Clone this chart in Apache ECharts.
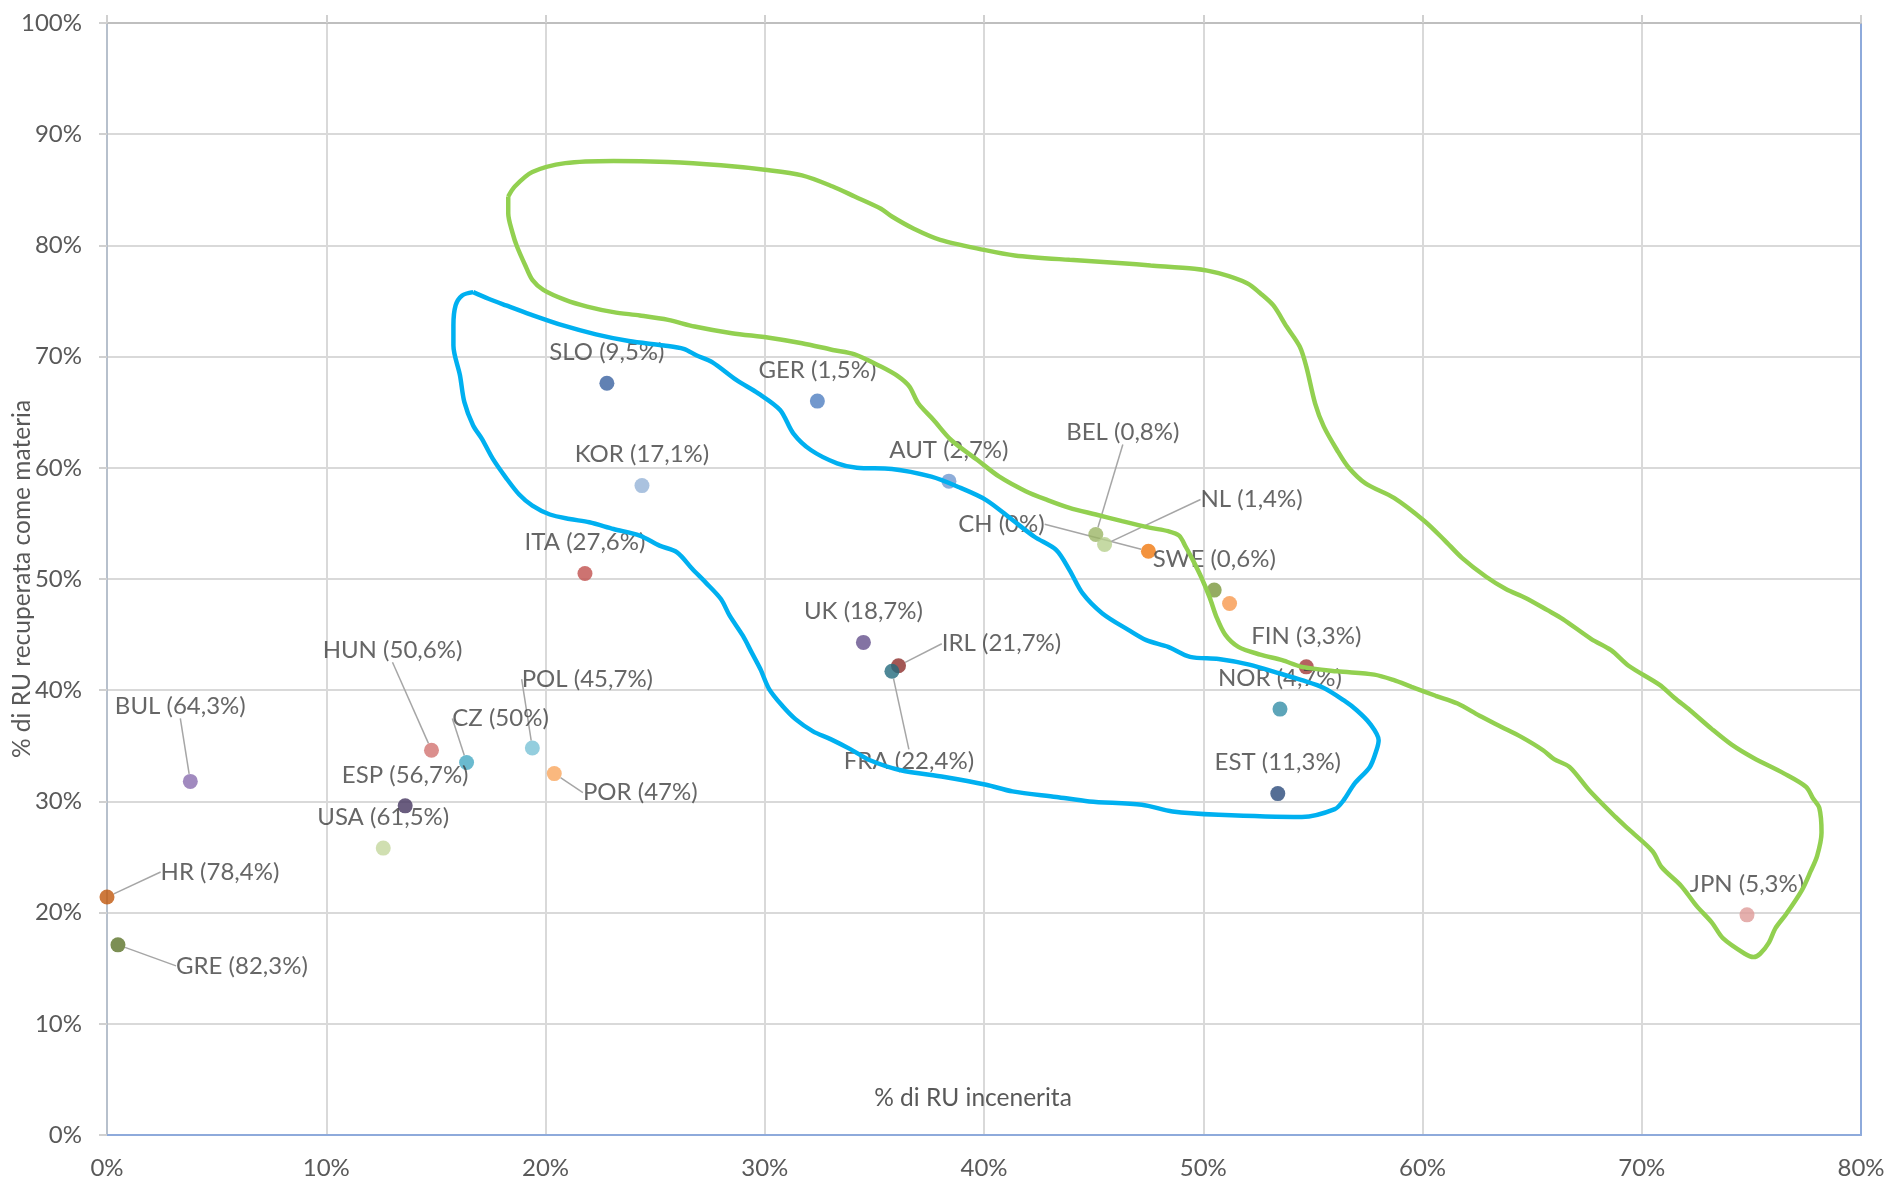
<!DOCTYPE html>
<html>
<head>
<meta charset="utf-8">
<script src="https://cdn.jsdelivr.net/npm/echarts@6/dist/echarts.min.js"></script>
<style>
  html, body { margin: 0; padding: 0; background: #ffffff; }
  #chart { width: 1887px; height: 1181px; }
</style>
</head>
<body>
<div id="chart"></div>
<script>
// ---- Data ----
const countries = ['SLO','GER','KOR','AUT','ITA','BEL','NL','CH','SWE','','UK','IRL','FRA','FIN','NOR','EST','JPN','BUL','HUN','CZ','POL','POR','ESP','USA','HR','GRE'];
// % di RU incenerita (x)
const incenerita = [22.8, 32.4, 24.4, 38.4, 21.8, 45.1, 45.5, 47.5, 50.5, 51.2, 34.5, 36.1, 35.8, 54.7, 53.5, 53.4, 74.8, 3.8, 14.8, 16.4, 19.4, 20.4, 13.6, 12.6, 0.0, 0.5];
// % di RU recuperata come materia (y)
const recuperata = [67.6, 66.0, 58.4, 58.8, 50.5, 54.0, 53.1, 52.5, 49.0, 47.8, 44.3, 42.2, 41.7, 42.1, 38.3, 30.7, 19.8, 31.8, 34.6, 33.5, 34.8, 32.5, 29.6, 25.8, 21.4, 17.1];
// value shown in parentheses in each label
const quota = [9.5, 1.5, 17.1, 2.7, 27.6, 0.8, 1.4, 0, 0.6, null, 18.7, 21.7, 22.4, 3.3, 4.7, 11.3, 5.3, 64.3, 50.6, 50, 45.7, 47, 56.7, 61.5, 78.4, 82.3];

// hand-drawn group outlines, [x %, y %]
const contornoBlu = [[16.7,75.8],[16.2,75.5],[15.9,74.6],[15.8,72.8],[15.8,71.0],[16.1,68.3],[16.3,65.9],[16.7,63.8],[17.1,62.6],[17.6,60.8],[18.2,59.1],[18.8,57.6],[19.4,56.6],[20.2,55.8],[21.1,55.4],[22.0,55.1],[23.1,54.5],[24.3,53.9],[25.2,53.0],[26.0,52.4],[26.7,50.9],[27.3,49.7],[28.0,48.2],[28.4,46.7],[29.0,44.9],[29.4,43.4],[29.8,41.9],[30.2,40.1],[30.8,38.6],[31.4,37.4],[32.2,36.3],[33.0,35.6],[33.9,34.7],[34.8,33.7],[36.2,32.8],[38.2,32.2],[40.1,31.5],[41.3,30.9],[43.3,30.4],[44.8,30.0],[47.2,29.7],[48.6,29.1],[50.7,28.8],[54.5,28.6],[56.0,29.3],[56.4,30.1],[56.9,31.6],[57.6,33.1],[57.9,34.6],[58.0,35.5],[57.6,37.0],[57.0,38.2],[56.4,39.1],[55.5,40.2],[54.5,40.9],[53.5,41.5],[52.1,42.3],[50.7,42.8],[49.4,43.0],[48.4,43.9],[47.4,44.5],[46.6,45.4],[45.4,46.9],[44.5,48.7],[43.9,50.8],[43.3,52.6],[42.3,53.8],[41.3,55.3],[40.1,57.1],[38.8,58.3],[37.6,59.2],[35.8,59.9],[34.2,60.0],[33.3,60.4],[32.1,61.6],[31.3,63.1],[30.7,65.2],[29.7,66.7],[28.7,67.9],[27.6,69.5],[26.9,70.1],[26.3,70.7],[25.4,71.0],[23.8,71.4],[22.3,72.0],[20.8,72.8],[19.3,73.8],[18.2,74.6],[17.4,75.2],[16.7,75.8]];
const contornoVerde = [[18.3,84.4],[18.6,85.3],[19.4,86.6],[20.9,87.4],[23.1,87.6],[25.6,87.5],[28.0,87.2],[30.0,86.8],[31.7,86.3],[33.1,85.3],[34.1,84.4],[35.3,83.3],[35.8,82.6],[36.8,81.5],[38.0,80.5],[40.0,79.6],[41.4,79.1],[43.9,78.7],[46.3,78.4],[47.6,78.2],[49.6,77.9],[50.7,77.5],[52.0,76.6],[52.6,75.7],[53.2,74.6],[53.8,72.7],[54.4,70.9],[54.7,69.1],[55.1,65.8],[55.5,63.7],[56.1,61.6],[56.6,60.1],[57.4,58.6],[58.7,57.3],[60.1,55.2],[61.0,53.5],[61.8,51.9],[62.9,50.2],[63.8,49.1],[64.7,48.3],[65.7,47.2],[66.4,46.4],[67.7,44.6],[68.6,43.6],[69.4,42.2],[70.8,40.5],[71.5,39.3],[72.2,38.2],[73.2,36.5],[74.1,35.1],[75.1,33.9],[76.5,32.5],[77.5,31.3],[77.8,30.3],[78.1,29.4],[78.2,27.2],[78.0,25.1],[77.7,23.7],[77.3,22.0],[76.6,19.9],[76.1,18.6],[75.8,17.3],[75.4,16.3],[75.1,16.0],[74.7,16.3],[73.7,17.7],[73.2,19.1],[72.5,20.6],[71.8,22.4],[70.9,24.1],[70.5,25.5],[69.4,27.5],[68.8,28.6],[67.6,31.0],[66.7,33.1],[66.0,33.8],[65.5,34.6],[64.5,35.8],[63.6,36.7],[62.6,37.7],[61.6,38.8],[60.6,39.5],[59.5,40.3],[58.7,40.9],[57.8,41.4],[56.1,41.7],[54.5,42.1],[53.6,42.7],[52.6,43.2],[51.6,43.9],[51.0,45.0],[50.6,46.6],[50.3,48.3],[49.9,50.2],[49.5,51.8],[49.2,52.9],[48.9,53.9],[48.4,54.3],[47.6,54.6],[46.3,55.2],[45.1,55.8],[43.9,56.4],[42.9,57.1],[41.9,57.9],[40.7,59.2],[39.7,60.7],[38.5,62.5],[37.7,64.3],[37.0,65.8],[36.6,67.3],[36.1,68.2],[35.3,69.1],[34.1,70.2],[33.1,70.6],[31.7,71.2],[30.2,71.7],[28.5,72.1],[26.8,72.7],[25.6,73.3],[24.3,73.7],[23.1,74.0],[21.9,74.5],[20.9,75.1],[19.9,76.0],[19.4,76.9],[19.1,78.1],[18.7,79.9],[18.5,81.1],[18.3,82.9],[18.3,84.4]];

const xTicks = [0, 10, 20, 30, 40, 50, 60, 70, 80];
const yTicks = [0, 10, 20, 30, 40, 50, 60, 70, 80, 90, 100];

// ---- Styles / layout (kept apart from the data) ----
const pointColors = ['#3A62A0','#4F7EC0','#95B3D7','#7298CF','#C0504D','#9BB565','#B7CF8D','#F0780E','#7A973C','#F8994E','#64508C','#8C2D2A','#236A7D','#A23A38','#348FA7','#2A4A7A','#DE9B99','#8A6DAF','#D27370','#45A9C3','#79C2D6','#F9A65E','#45345F','#C4D79E','#C0580C','#5B7329'];
const labelShift = {
  HR: [113, 6], GRE: [124, 52], BUL: [-10, -44], HUN: [-39, -69], CZ: [34, -13],
  POL: [55, -38], POR: [86, 50], BEL: [27, -71], NL: [147, -14], CH: [-147, 4],
  IRL: [103, 9], FRA: [17, 121]
};

const fontFam = 'Lato, "Open Sans", sans-serif';
function fmt(v) { return String(v).replace('.', ','); }

const pointData = countries.map((c, i) => ({
  name: c,
  value: [incenerita[i], recuperata[i]],
  itemStyle: { color: pointColors[i] },
  label: { show: quota[i] !== null },
  labelLine: { show: !!labelShift[c] }
}));

const chart = echarts.init(document.getElementById('chart'), null, { renderer: 'canvas' });
const axisCommon = { type: 'value' };
chart.setOption({
  animation: false,
  backgroundColor: '#ffffff',
  grid: { left: 107, right: 26, top: 23, bottom: 46, containLabel: false, outerBoundsMode: 'none' },
  xAxis: [{
    ...axisCommon, position: 'bottom', min: xTicks[0], max: xTicks[xTicks.length - 1], interval: 10,
    axisLine: { show: true, onZero: false, lineStyle: { color: '#8EAADB', width: 2 } },
    axisTick: { show: false },
    axisLabel: { formatter: '{value}%', fontFamily: fontFam, fontSize: 24, color: '#595959', margin: 21 },
    splitLine: { show: true, lineStyle: { color: '#D9D9D9', width: 2 } },
    name: '% di RU incenerita', nameLocation: 'middle', nameGap: -49, nameMoveOverlap: false,
    nameTextStyle: { fontFamily: fontFam, fontSize: 24.5, color: '#595959', padding: [0, 22, 0, 0] }
  }, {
    ...axisCommon, position: 'top', min: xTicks[0], max: xTicks[xTicks.length - 1], interval: 10,
    axisLine: { show: true, onZero: false, lineStyle: { color: '#BFBFBF', width: 2 } },
    axisTick: { show: true, length: 8, lineStyle: { color: '#D0D0D0', width: 2 } },
    axisLabel: { show: false }, splitLine: { show: false }
  }],
  yAxis: [{
    ...axisCommon, position: 'left', min: yTicks[0], max: yTicks[yTicks.length - 1], interval: 10,
    axisLine: { show: true, onZero: false, lineStyle: { color: '#B7C0CC', width: 2 } },
    axisTick: { show: true, length: 8, lineStyle: { color: '#D0D0D0', width: 2 } },
    axisLabel: { formatter: '{value}%', fontFamily: fontFam, fontSize: 24, color: '#595959', margin: 25 },
    splitLine: { show: true, lineStyle: { color: '#D9D9D9', width: 2 } },
    name: '% di RU recuperata come materia', nameLocation: 'middle', nameGap: 72, nameMoveOverlap: false,
    nameTextStyle: { fontFamily: fontFam, fontSize: 24.5, color: '#595959' }
  }, {
    ...axisCommon, position: 'right', min: yTicks[0], max: yTicks[yTicks.length - 1], interval: 10,
    axisLine: { show: true, onZero: false, lineStyle: { color: '#8EAADB', width: 2 } },
    axisTick: { show: false }, axisLabel: { show: false }, splitLine: { show: false }
  }],
  series: [{
    type: 'scatter',
    z: 2,
    symbol: 'circle',
    symbolSize: 15,
    data: pointData,
    label: {
      show: true, position: 'top', distance: 11.5,
      fontFamily: fontFam, fontSize: 24, color: '#404040',
      formatter: p => {
        const q = quota[p.dataIndex];
        return q === null ? '' : p.name + ' (' + fmt(q) + '%)';
      }
    },
    labelLine: { show: false, lineStyle: { color: '#A6A6A6', width: 1.5 } },
    labelLayout: p => {
      const s = labelShift[countries[p.dataIndex]];
      return s ? { dx: s[0], dy: s[1] } : {};
    },
    emphasis: { disabled: true }
  }, {
    type: 'line', z: 3, data: contornoBlu, showSymbol: false, smooth: 0.3,
    lineStyle: { color: '#00B0F0', width: 4.5 }, emphasis: { disabled: true }
  }, {
    type: 'line', z: 3, data: contornoVerde, showSymbol: false, smooth: 0.3,
    lineStyle: { color: '#92D050', width: 4.5 }, emphasis: { disabled: true }
  }]
});
</script>
</body>
</html>
